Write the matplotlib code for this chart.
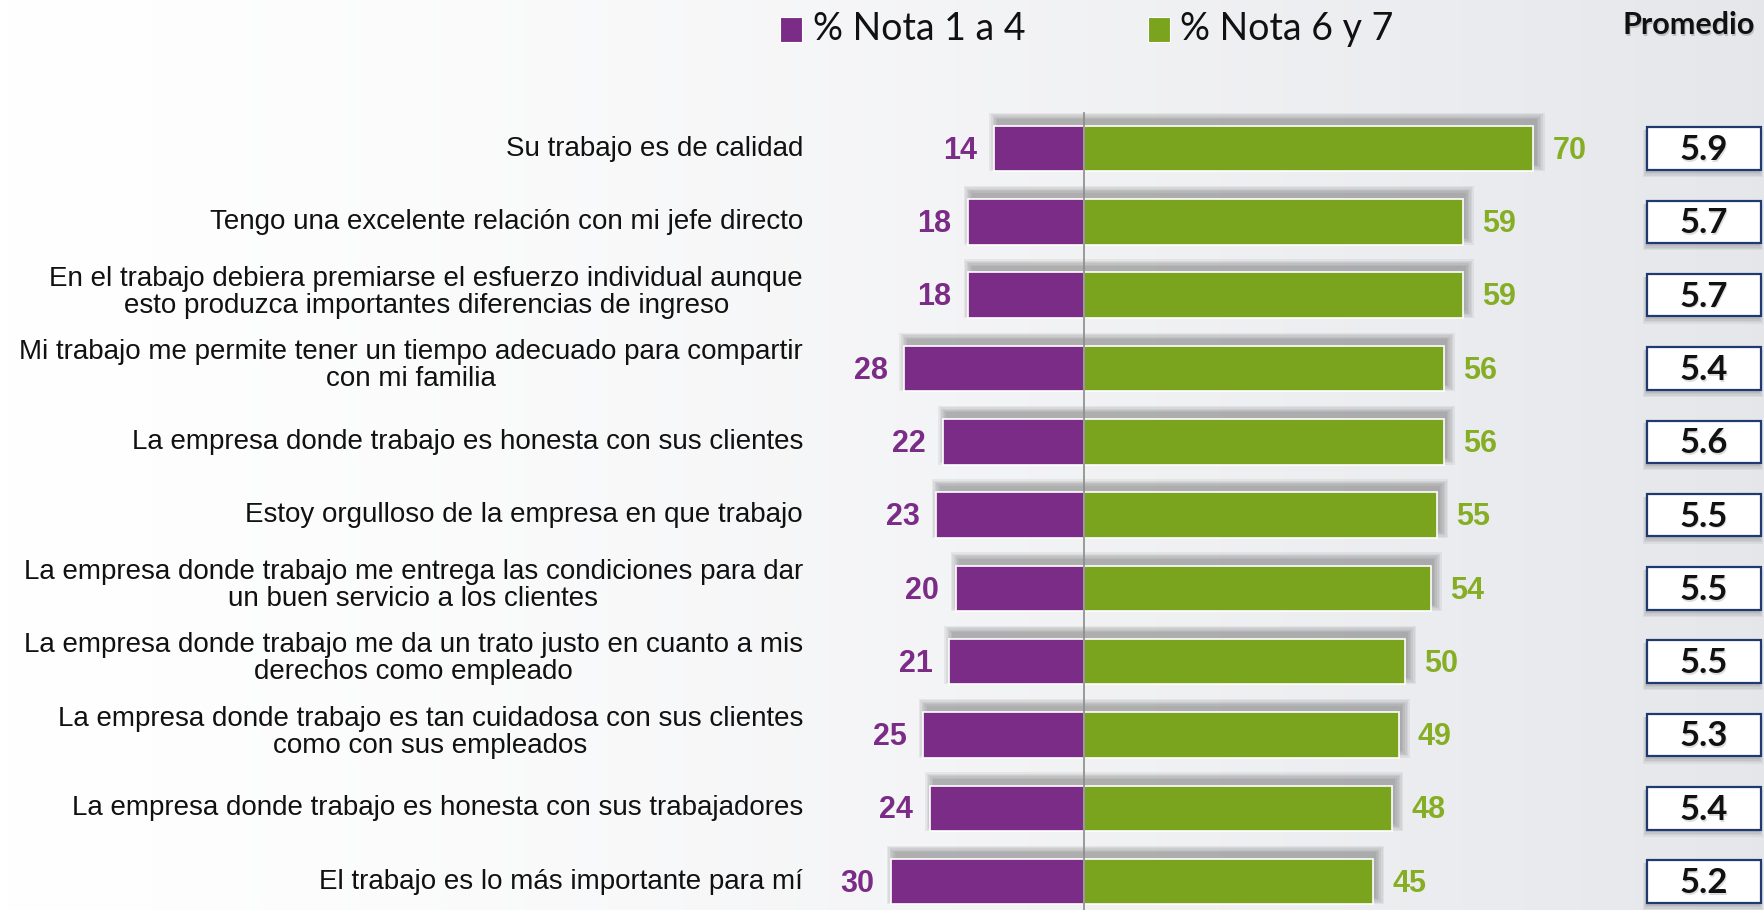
import matplotlib.pyplot as plt
import matplotlib.transforms as mtransforms
from matplotlib.patches import Rectangle
import numpy as np

# data
categorias = [
    "Su trabajo es de calidad",
    "Tengo una excelente relación con mi jefe directo",
    "En el trabajo debiera premiarse el esfuerzo individual aunque\nesto produzca importantes diferencias de ingreso",
    "Mi trabajo me permite tener un tiempo adecuado para compartir\ncon mi familia",
    "La empresa donde trabajo es honesta con sus clientes",
    "Estoy orgulloso de la empresa en que trabajo",
    "La empresa donde trabajo me entrega las condiciones para dar\nun buen servicio a los clientes",
    "La empresa donde trabajo me da un trato justo en cuanto a mis\nderechos como empleado",
    "La empresa donde trabajo es tan cuidadosa con sus clientes\ncomo con sus empleados",
    "La empresa donde trabajo es honesta con sus trabajadores",
    "El trabajo es lo más importante para mí",
]
nota_1_4 = [14, 18, 18, 28, 22, 23, 20, 21, 25, 24, 30]
nota_6_7 = [70, 59, 59, 56, 56, 55, 54, 50, 49, 48, 45]
promedio = [5.9, 5.7, 5.7, 5.4, 5.6, 5.5, 5.5, 5.5, 5.3, 5.4, 5.2]

PURPLE = "#7B2C87"
GREEN = "#7BA41E"
GREEN_TXT = "#86AE24"
NAVY = "#1F3A6E"

W, H = 1765, 910
fig = plt.figure(figsize=(W / 100, H / 100), dpi=100)

# background gradient
bg = fig.add_axes([0, 0, 1, 1], zorder=0)
grad = np.linspace(0, 1, 256)
img = np.ones((1, 256, 3))
c0 = np.array([1.0, 1.0, 1.0])
c1 = np.array([0.90, 0.905, 0.92])
img[0] = c0 + (c1 - c0) * grad[:, None] ** 1.3
bg.imshow(img, aspect="auto", extent=[0, 1, 0, 1])
bg.axis("off")

ax = fig.add_axes([0, 0, 1, 1], zorder=1)
ax.patch.set_alpha(0)
ax.axis("off")

px_unit = 6.42
center_px = 1084
row0_px, row_step = 148.6, 73.3
ax.set_xlim(-center_px / px_unit, (W - center_px) / px_unit)
ax.set_ylim((H - row0_px) / row_step, -row0_px / row_step)

y = np.arange(len(categorias))
bh = 0.62
neg = -np.array(nota_1_4)
pos = np.array(nota_6_7)

# blurred shadow, shifted up and to the right
dx, dy = 0.5, -0.09
for k in range(6):
    ex = 0.25 * k
    ey = 0.018 * k
    ax.barh(y + dy, pos - neg + 2 * ex, left=neg + dx - ex, height=bh + 2 * ey,
            color="#3a3a3a", alpha=0.07, linewidth=0, zorder=2)

ax.barh(y, neg, height=bh, color=PURPLE, edgecolor="white", linewidth=1.2, zorder=3)
ax.barh(y, pos, height=bh, color=GREEN, edgecolor="white", linewidth=1.2, zorder=3)

ax.plot([0, 0], [-0.49, (H - row0_px) / row_step], color="#8a8a8a", lw=1.2, zorder=4)

for yi, v1, v2 in zip(y, nota_1_4, nota_6_7):
    ax.text(-v1 - 2.6, yi + 0.03, str(v1), ha="right", va="center", color=PURPLE,
            fontsize=22, fontweight="bold", family="Liberation Sans", zorder=5)
    ax.text(v2 + 3.0, yi + 0.03, str(v2), ha="left", va="center", color=GREEN_TXT,
            fontsize=22, fontweight="bold", family="Liberation Sans", zorder=5)

# category labels
trans = mtransforms.blended_transform_factory(fig.transFigure, ax.transData)
for yi, lab in zip(y, categorias):
    off = -0.04 if "\n" in lab else 0.0
    ax.text(803 / W, yi + off, lab, transform=trans, ha="right", va="center",
            multialignment="center", fontsize=20, family="Liberation Sans",
            color="#111111", linespacing=1.05)

# promedio boxes
bx0, bw = 1647 / W, 114 / W
boxh = 0.58
for yi, p in zip(y, promedio):
    for k in range(4):
        ax.add_patch(Rectangle((bx0 - (1 + k) / W, yi - boxh / 2 + 0.04),
                               bw + 2 * k / W, boxh + 0.02 * k, transform=trans,
                               facecolor="#000000", alpha=0.05, linewidth=0, zorder=2))
    ax.add_patch(Rectangle((bx0, yi - boxh / 2), bw, boxh, transform=trans,
                           facecolor="white", edgecolor=NAVY, linewidth=1.6, zorder=3))
    ax.text(bx0 + bw / 2 + 1 / W, yi + 0.045, f"{p:.1f}", transform=trans,
            ha="center", va="center", fontsize=25, fontweight="bold", family="Lato",
            color="#aaaaaa", alpha=0.4, zorder=4)
    ax.text(bx0 + bw / 2, yi + 0.02, f"{p:.1f}", transform=trans, ha="center",
            va="center", fontsize=25, fontweight="bold", family="Lato",
            color="#111111", zorder=5)

# legend and header
fig.text(1690 / W, 1 - 27 / H, "Promedio", ha="center", va="center",
         fontsize=22, fontweight="bold", family="Lato", color="#999999", alpha=0.5)
fig.text(1689 / W, 1 - 25 / H, "Promedio", ha="center", va="center",
         fontsize=22, fontweight="bold", family="Lato", color="#111111")

for sq_x, txt_x, col, lab in [(780, 813, PURPLE, "% Nota 1 a 4"),
                              (1148, 1180, GREEN, "% Nota 6 y 7")]:
    fig.add_artist(Rectangle((sq_x / W, 1 - 42 / H), 22 / W, 25 / H,
                             transform=fig.transFigure, facecolor=col,
                             edgecolor="white", linewidth=0.8))
    fig.text(txt_x / W, 1 - 29 / H, lab, ha="left", va="center",
             fontsize=27, family="Lato", color="#111111")

fig.savefig("out.png", dpi=100)
